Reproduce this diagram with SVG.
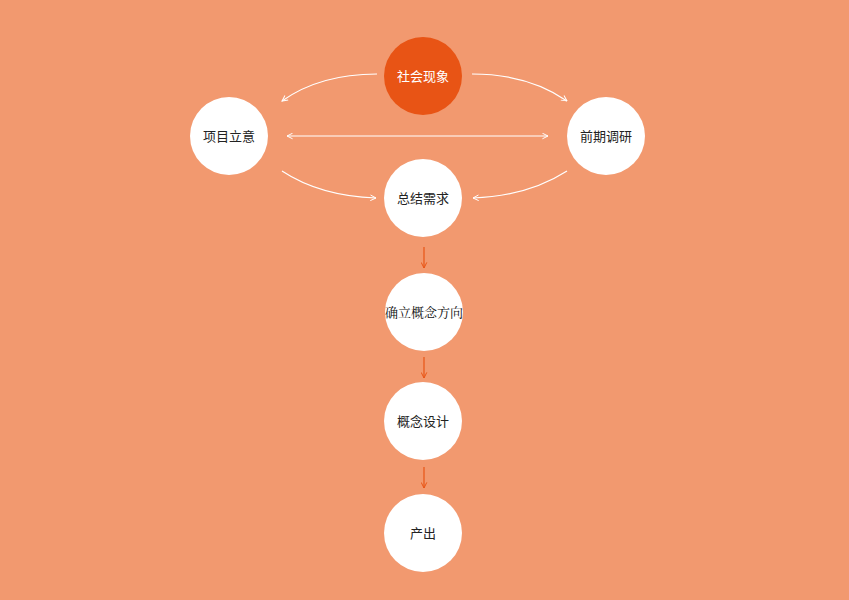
<svg xmlns="http://www.w3.org/2000/svg" width="849" height="600" viewBox="0 0 849 600">
<style>
.c{fill:#ffffff}
.t{font-family:"Noto Sans CJK SC","Noto Sans",sans-serif;font-size:13px;fill:#222222;text-anchor:middle}
.s{font-family:"Noto Serif CJK SC","Noto Sans CJK SC",serif;font-size:13px;fill:#111111;text-anchor:middle}
.w{stroke:#ffffff;stroke-width:1.2;fill:none;marker-end:url(#aw)}
.o{stroke:#E85415;stroke-width:1.2;fill:none;marker-end:url(#ao)}
</style>
<defs>
<marker id="aw" viewBox="0 0 10 10" refX="9" refY="5" markerWidth="7" markerHeight="7" orient="auto-start-reverse" markerUnits="userSpaceOnUse"><path d="M1,1 L9,5 L1,9" fill="none" stroke="#ffffff" stroke-width="1.4"/></marker>
<marker id="ao" viewBox="0 0 10 10" refX="9" refY="5" markerWidth="7" markerHeight="7" orient="auto" markerUnits="userSpaceOnUse"><path d="M1,1 L9,5 L1,9" fill="none" stroke="#E85415" stroke-width="1.4"/></marker>
</defs>
<rect width="849" height="600" fill="#F2996F"/>
<g id="connectors">
<path class="w" d="M377,74 Q320,74 282,101"/>
<path class="w" d="M472,74 Q528,74 567,101"/>
<path class="w" d="M287,136 L548,136" style="marker-start:url(#aw)"/>
<path class="w" d="M282,171 Q320,196 376,198"/>
<path class="w" d="M567,171 Q528,196 473,198"/>
<path class="o" d="M424,247 L424,268"/>
<path class="o" d="M424,357 L424,378"/>
<path class="o" d="M424,467 L424,488"/>
</g>
<g id="n1"><circle cx="423" cy="76" r="39" fill="#E85415"/><text class="t" x="423" y="80.5" style="fill:#ffffff">社会现象</text></g>
<g id="n2"><circle class="c" cx="229" cy="136" r="39"/><text class="t" x="229" y="140.5">项目立意</text></g>
<g id="n3"><circle class="c" cx="606" cy="136" r="39"/><text class="t" x="606" y="140.5">前期调研</text></g>
<g id="n4"><circle class="c" cx="423" cy="198" r="39"/><text class="t" x="423" y="202.5">总结需求</text></g>
<g id="n5"><circle class="c" cx="424" cy="312" r="39"/><text class="s" x="424" y="316.5">确立概念方向</text></g>
<g id="n6"><circle class="c" cx="423" cy="421" r="39"/><text class="t" x="423" y="425.5">概念设计</text></g>
<g id="n7"><circle class="c" cx="423" cy="533" r="39"/><text class="t" x="423" y="537.5">产出</text></g>
</svg>
